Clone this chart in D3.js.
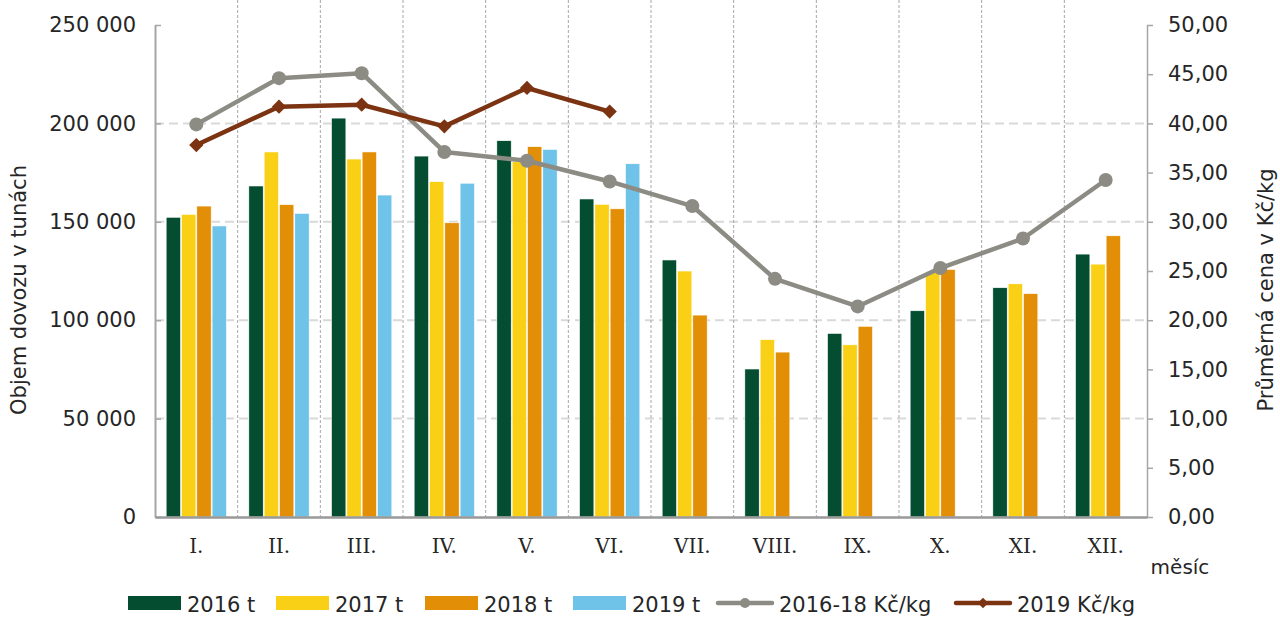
<!DOCTYPE html>
<html>
<head>
<meta charset="utf-8">
<script src="https://cdn.jsdelivr.net/npm/d3@7"></script>
<style>
  html, body { margin: 0; padding: 0; background: #fff; }
  svg { display: block; }
  text { font-family: "DejaVu Sans", Verdana, sans-serif; fill: #262626; }
</style>
</head>
<body>
<svg id="chart" width="1280" height="617"></svg>
<script>
// ---- data ----
const months = ["I.", "II.", "III.", "IV.", "V.", "VI.", "VII.", "VIII.", "IX.", "X.", "XI.", "XII."];
const barSeries = ["2016 t", "2017 t", "2018 t", "2019 t"];
const vol2016 = [152300, 168200, 202700, 183400, 191200, 161600, 130600, 75200, 93300, 104800, 116500, 133600];
const vol2017 = [153800, 185500, 181900, 170400, 180500, 158900, 125000, 90100, 87500, 124600, 118500, 128500];
const vol2018 = [158000, 158700, 185500, 149500, 188200, 156600, 102600, 83800, 96900, 125800, 113500, 142900];
const vol2019 = [147900, 154300, 163600, 169600, 186800, 179500, null, null, null, null, null, null];
const lineSeries = ["2016-18 Kč/kg", "2019 Kč/kg"];
const price1618 = [39.9, 44.6, 45.1, 37.1, 36.2, 34.1, 31.6, 24.2, 21.4, 25.3, 28.3, 34.25];
const price2019 = [37.8, 41.7, 41.9, 39.7, 43.6, 41.2];
const volTicks = [0, 50000, 100000, 150000, 200000, 250000];
const priceTicks = [0, 5, 10, 15, 20, 25, 30, 35, 40, 45, 50];

const barColors = ["#044d30", "#fad016", "#e38e07", "#6fc3e8"];
const lineColors = ["#8c8c84", "#7b3311"];
const volData = [vol2016, vol2017, vol2018, vol2019];

// ---- layout ----
const svg = d3.select("#chart");
const L = 155, R = 1147, T = 25, B = 517;

const x0 = d3.scaleBand().domain(months).range([L, R]).paddingInner(0.27).paddingOuter(0.135);
const x1 = d3.scaleBand().domain(barSeries).range([0, x0.bandwidth()]).paddingInner(0.06);
const yL = d3.scaleLinear().domain([0, 250000]).range([B, T]);
const yR = d3.scaleLinear().domain([0, 50]).range([B, T]);
const cx = m => x0(m) + x0.bandwidth() / 2;

// horizontal gridlines
svg.append("g").selectAll("line").data(volTicks.filter(d => d > 0 && d < 250000)).join("line")
  .attr("x1", L).attr("x2", R).attr("y1", d => yL(d)).attr("y2", d => yL(d))
  .attr("stroke", "#d9d9d9").attr("stroke-width", 2).attr("stroke-dasharray", "9,5");

// vertical gridlines at category boundaries
const step = x0.step();
const bounds = months.slice(1).map(m => cx(m) - step / 2);
svg.append("g").selectAll("line").data(bounds).join("line")
  .attr("x1", d => d).attr("x2", d => d).attr("y1", 0).attr("y2", B)
  .attr("stroke", "#a6a6a6").attr("stroke-width", 1).attr("stroke-dasharray", "3,2");

// bars
barSeries.forEach((s, si) => {
  svg.append("g").selectAll("rect")
    .data(months.map((m, i) => ({ m, v: volData[si][i] })).filter(d => d.v != null))
    .join("rect")
    .attr("x", d => x0(d.m) + x1(s))
    .attr("width", x1.bandwidth())
    .attr("y", d => yL(d.v))
    .attr("height", d => B - yL(d.v))
    .attr("fill", barColors[si])
    .attr("stroke", "#ffffff").attr("stroke-width", 0.6);
});

// axes
const volFmt = d => d3.format(",")(d).replace(/,/g, " ");
const priceFmt = d => d3.format(".2f")(d).replace(".", ",");

const gl = svg.append("g").attr("transform", `translate(${L},0)`)
  .call(d3.axisLeft(yL).tickValues(volTicks).tickFormat(volFmt).tickSizeInner(-6).tickSizeOuter(0).tickPadding(19));
gl.select(".domain").attr("stroke", "#a6a6a6").attr("stroke-width", 2);
gl.selectAll(".tick line").attr("stroke", "#a6a6a6").attr("stroke-width", 1.5);
gl.selectAll(".tick text").style("font-size", "21px").style("font-family", "DejaVu Sans").attr("fill", "#262626");

const gr = svg.append("g").attr("transform", `translate(${R},0)`)
  .call(d3.axisRight(yR).tickValues(priceTicks).tickFormat(priceFmt).tickSizeInner(6).tickSizeOuter(0).tickPadding(15));
gr.select(".domain").attr("stroke", "#a6a6a6").attr("stroke-width", 1.5);
gr.selectAll(".tick line").attr("stroke", "#a6a6a6").attr("stroke-width", 1.5);
gr.selectAll(".tick text").style("font-size", "21px").style("font-family", "DejaVu Sans").attr("fill", "#262626");

const gb = svg.append("g").attr("transform", `translate(0,${B})`)
  .call(d3.axisBottom(x0).tickSize(0).tickPadding(22));
gb.select(".domain").attr("stroke", "#999999").attr("stroke-width", 2.5);
gb.selectAll(".tick text").style("font-size", "20px").style("font-family", "DejaVu Serif").attr("fill", "#262626");

// lines
const line = d3.line().x(d => cx(d.m)).y(d => yR(d.v));
const p1 = months.map((m, i) => ({ m, v: price1618[i] }));
const p2 = price2019.map((v, i) => ({ m: months[i], v }));

svg.append("path").datum(p1).attr("d", line).attr("fill", "none")
  .attr("stroke", lineColors[0]).attr("stroke-width", 4.5).attr("stroke-linejoin", "round");
svg.append("g").selectAll("circle").data(p1).join("circle")
  .attr("cx", d => cx(d.m)).attr("cy", d => yR(d.v)).attr("r", 7).attr("fill", lineColors[0]);

svg.append("path").datum(p2).attr("d", line).attr("fill", "none")
  .attr("stroke", lineColors[1]).attr("stroke-width", 4.5).attr("stroke-linejoin", "round");
const diamond = d3.symbol().type(d3.symbolDiamond2).size(130);
svg.append("g").selectAll("path").data(p2).join("path")
  .attr("d", diamond).attr("transform", d => `translate(${cx(d.m)},${yR(d.v)})`).attr("fill", lineColors[1]);

// axis titles
svg.append("text").attr("transform", "translate(26,290) rotate(-90)").attr("text-anchor", "middle")
  .style("font-size", "21px").text("Objem dovozu v tunách");
svg.append("text").attr("transform", "translate(1273,290) rotate(-90)").attr("text-anchor", "middle")
  .style("font-size", "21px").text("Průměrná cena v Kč/kg");
svg.append("text").attr("x", 1180).attr("y", 574).attr("text-anchor", "middle")
  .style("font-size", "20px").text("měsíc");

// legend
const legY = 603;
const legItems = [
  { name: barSeries[0], type: "bar", c: barColors[0], x: 128 },
  { name: barSeries[1], type: "bar", c: barColors[1], x: 276 },
  { name: barSeries[2], type: "bar", c: barColors[2], x: 425 },
  { name: barSeries[3], type: "bar", c: barColors[3], x: 573 },
  { name: lineSeries[0], type: "circle", c: lineColors[0], x: 718 },
  { name: lineSeries[1], type: "diamond", c: lineColors[1], x: 956 }
];
const lg = svg.append("g");
legItems.forEach(it => {
  if (it.type === "bar") {
    lg.append("rect").attr("x", it.x).attr("y", legY - 7).attr("width", 53).attr("height", 14).attr("fill", it.c);
  } else {
    lg.append("line").attr("x1", it.x).attr("x2", it.x + 54).attr("y1", legY).attr("y2", legY)
      .attr("stroke", it.c).attr("stroke-width", 4.5).attr("stroke-linecap", "round");
    if (it.type === "circle") {
      lg.append("circle").attr("cx", it.x + 27).attr("cy", legY).attr("r", 5).attr("fill", it.c);
    } else {
      lg.append("path").attr("d", d3.symbol().type(d3.symbolDiamond2).size(70)())
        .attr("transform", `translate(${it.x + 27},${legY})`).attr("fill", it.c);
    }
  }
  lg.append("text").attr("x", it.x + (it.type === "bar" ? 59 : 61)).attr("y", legY + 9)
    .style("font-size", "21px").text(it.name);
});
</script>
</body>
</html>
